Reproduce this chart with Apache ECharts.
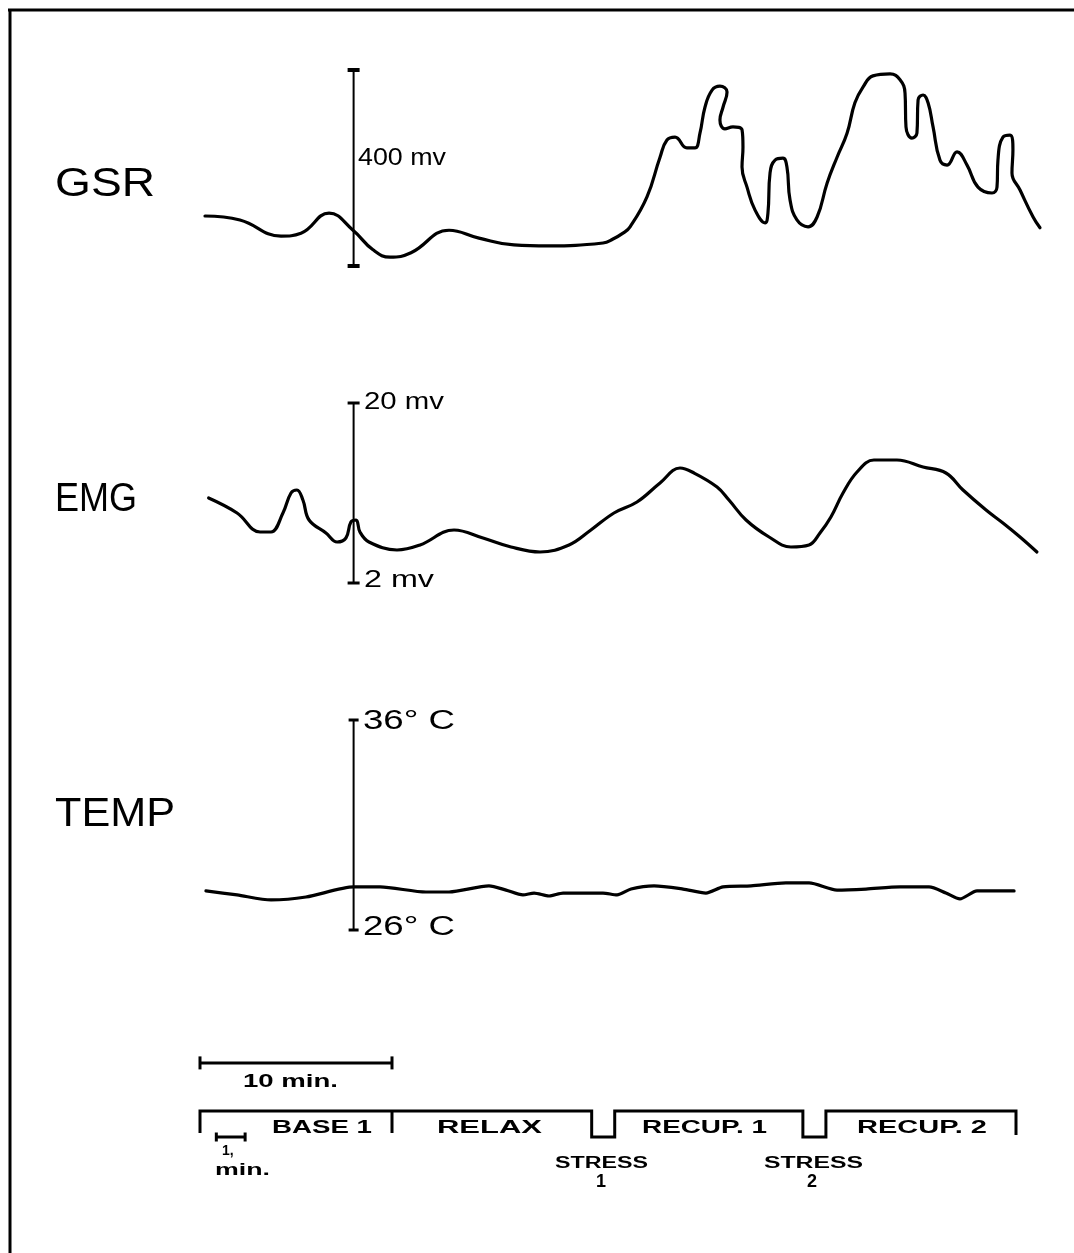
<!DOCTYPE html>
<html><head><meta charset="utf-8">
<script src="https://cdn.jsdelivr.net/npm/echarts@6/dist/echarts.min.js"></script>
<style>html,body{margin:0;padding:0;background:#fff}#c{width:1074px;height:1253px}</style>
</head><body><div id="c"></div>
<script>
// ---- DATA (time in minutes) ----
const gsrTime = [
  0.26,2.08,4.22,5.26,6.72,7.97,9.01,9.90,10.99,12.97,
  14.53,16.35,18.13,20.99,21.51,22.03,22.40,23.28,23.96,24.32,
  24.74,25.36,25.78,26.04,26.30,26.67,27.08,27.45,27.24,27.08,
  27.34,27.76,28.23,28.28,28.23,28.49,28.91,29.43,29.58,29.69,
  29.95,30.36,30.57,30.73,31.09,31.67,32.14,32.66,33.18,33.70,
  34.11,34.53,35.05,35.94,36.46,36.72,36.77,37.08,37.34,37.40,
  37.66,37.92,38.18,38.54,38.91,39.43,39.95,40.52,41.25,41.51,
  41.56,41.82,42.19,42.34,42.29,42.71,43.39,43.75];
const gsrValue = [
  102,94,61,67,108,73,33,18,27,73,
  57,43,41,47,55,67,80,141,222,257,
  263,241,241,271,324,359,367,355,324,298,
  280,284,278,243,202,161,114,88,108,190,
  216,220,202,135,94,80,100,169,222,271,
  333,365,388,392,380,353,284,261,271,339,
  349,333,284,216,206,233,206,161,149,161,
  216,263,267,237,190,155,100,78];

const emgTime = [
  0.45,1.93,3.13,3.70,4.32,4.74,5.05,5.36,5.68,6.56,
  7.14,7.60,7.86,8.13,8.33,8.80,10.26,11.46,13.23,14.74,
  16.20,17.71,19.22,20.36,21.56,22.76,23.96,25.00,25.73,26.93,
  27.55,28.44,29.64,30.78,31.72,32.29,32.86,33.49,34.22,35.10,
  36.30,37.66,38.85,39.74,40.94,41.82,42.71,43.59];
const emgValue = [
  10.5,9.0,7.1,7.1,9.0,11.0,11.3,10.3,8.3,7.0,
  6.1,6.5,8.1,8.3,7.1,6.1,5.3,5.8,7.3,6.5,
  5.6,5.1,5.8,7.3,9.0,10.1,12.0,13.5,13.0,11.6,
  10.3,8.3,6.6,5.6,5.8,7.0,8.6,11.0,13.1,14.3,
  14.3,13.6,13.0,11.3,9.3,8.0,6.6,5.1];

const tempTime = [
  0.31,1.93,3.70,5.52,8.02,9.38,11.77,12.97,15.05,15.94,
  16.82,17.40,18.18,18.91,20.99,21.72,22.45,23.65,25.16,26.35,
  27.24,28.70,30.52,31.72,33.18,34.69,36.46,37.97,38.85,39.58,
  40.47,42.40];
const tempValue = [
  27.86,27.67,27.43,27.57,28.05,28.05,27.81,27.81,28.10,27.90,
  27.67,27.76,27.62,27.76,27.76,27.67,27.95,28.10,27.95,27.76,
  28.05,28.10,28.24,28.24,27.90,27.95,28.05,28.05,27.76,27.48,
  27.86,27.86];

// scale bars
const scaleBarTime = 8.0;
const gsrScale = [0, 400];
const emgScale = [2, 20];
const tempScale = [26, 36];
const gsrScaleLabels = ['400 mv'];
const emgScaleLabels = ['20 mv', '2 mv'];
const tempScaleLabels = ['36° C', '26° C'];
const traceNames = ['GSR', 'EMG', 'TEMP'];

// session phases
const phaseNames = ['BASE 1', 'RELAX', 'STRESS 1', 'RECUP. 1', 'STRESS 2', 'RECUP. 2'];
const phaseBounds = [0, 10, 20.4, 21.6, 31.4, 32.6, 42.5];
const phaseLevel = [1, 1, 0, 1, 0, 1];
const tenMinBar = [0, 10];
const oneMinBar = [0.85, 2.35];
const timeLabels = ['10 min.', '1,', 'min.'];

// ---- CHART ----
const chart = echarts.init(document.getElementById('c'), null, {renderer: 'canvas'});
const INK = '#000';
const zip = (t, v) => t.map((x, i) => [x, v[i]]);

const gridDefs = [
  {top: 70, height: 196},
  {top: 403, height: 180},
  {top: 720, height: 210},
  {top: 1111, height: 26}
];
const yRanges = [gsrScale, emgScale, tempScale, [0, 1]];
const grids = gridDefs.map(g => ({left: 200, width: 844.8, top: g.top, height: g.height, outerBoundsMode: 'none', containLabel: false}));
const xAxes = gridDefs.map((g, i) => ({type: 'value', gridIndex: i, min: 0, max: 44, show: false}));
const yAxes = gridDefs.map((g, i) => ({type: 'value', gridIndex: i, min: yRanges[i][0], max: yRanges[i][1], show: false}));

function curve(i, data, smooth, w) {
  return {type: 'line', xAxisIndex: i, yAxisIndex: i, data, symbol: 'none', smooth,
    clip: false, silent: true, lineStyle: {color: INK, width: w || 3.2, cap: 'round', join: 'round'}};
}
function bar(i, data, capSize, width) {
  return {type: 'line', xAxisIndex: i, yAxisIndex: i, data, symbol: 'rect', symbolSize: capSize,
    showSymbol: true, clip: false, silent: true, itemStyle: {color: INK},
    lineStyle: {color: INK, width: width || 2}};
}

// step outline for phases
const step = [[phaseBounds[0], 0.15]];
phaseLevel.forEach((lv, i) => { step.push([phaseBounds[i], lv]); step.push([phaseBounds[i + 1], lv]); });
step.push([phaseBounds[phaseBounds.length - 1], 0.08]);

const series = [
  curve(0, zip(gsrTime, gsrValue), 0.45),
  curve(1, zip(emgTime, emgValue), 0.4),
  curve(2, zip(tempTime, tempValue), 0.25),
  bar(0, gsrScale.map(v => [scaleBarTime, v]), [12, 4]),
  bar(1, emgScale.map(v => [scaleBarTime, v]), [12, 3]),
  bar(2, tempScale.map(v => [scaleBarTime, v]), [10, 3]),
  {type: 'line', xAxisIndex: 3, yAxisIndex: 3, data: step, symbol: 'none', clip: false, silent: true,
    lineStyle: {color: INK, width: 3, join: 'miter'}},
  {type: 'line', xAxisIndex: 3, yAxisIndex: 3, data: [[phaseBounds[1], 1], [phaseBounds[1], 0.15]], symbol: 'none', clip: false, silent: true,
    lineStyle: {color: INK, width: 3}},
  bar(3, tenMinBar.map(t => [t, 2.85]), [3, 13], 3),
  bar(3, oneMinBar.map(t => [t, 0]), [3, 9], 3)
];

// ---- TEXT ----
const mctx = document.createElement('canvas').getContext('2d');
function txt(str, left, cy, size, width, weight) {
  const font = (weight || 'normal') + ' ' + size + 'px "Liberation Sans"';
  mctx.font = font;
  const w = mctx.measureText(str).width;
  return {type: 'text', x: left, y: cy, scaleX: width ? width / w : 1, silent: true,
    style: {text: str, x: 0, y: 0, font, fill: INK, textAlign: 'left', textVerticalAlign: 'middle', align: 'left', verticalAlign: 'middle'}};
}
const graphics = [
  {type: 'line', shape: {x1: 8, y1: 10, x2: 1074, y2: 10}, style: {stroke: INK, lineWidth: 3}, silent: true},
  {type: 'line', shape: {x1: 10, y1: 9, x2: 10, y2: 1253}, style: {stroke: INK, lineWidth: 3}, silent: true},
  txt(traceNames[0], 55, 185, 40, 100),
  txt(traceNames[1], 55, 500, 40, 82),
  txt(traceNames[2], 55, 815, 40, 120),
  txt(gsrScaleLabels[0], 358, 158, 24, 88),
  txt(emgScaleLabels[0], 364, 403, 23, 80),
  txt(emgScaleLabels[1], 364, 581, 23, 70),
  txt(tempScaleLabels[0], 363, 722, 27, 92),
  txt(tempScaleLabels[1], 363, 928, 27, 92),
  txt(timeLabels[0], 243, 1082, 19, 95, 'bold'),
  txt(phaseNames[0], 272, 1128, 18, 100, 'bold'),
  txt(phaseNames[1], 437, 1128, 18, 105, 'bold'),
  txt(phaseNames[3], 642, 1128, 18, 125, 'bold'),
  txt(phaseNames[5], 857, 1128, 18, 130, 'bold'),
  txt(phaseNames[2].split(' ')[0], 555, 1164, 16, 93, 'bold'),
  txt(phaseNames[2].split(' ')[1], 596, 1182, 18, 0, 'bold'),
  txt(phaseNames[4].split(' ')[0], 764, 1164, 16, 99, 'bold'),
  txt(phaseNames[4].split(' ')[1], 807, 1182, 18, 0, 'bold'),
  txt(timeLabels[1], 222, 1151, 14, 0, 'bold'),
  txt(timeLabels[2], 215, 1170, 17, 55, 'bold')
];

chart.setOption({
  animation: false,
  backgroundColor: '#fff',
  grid: grids, xAxis: xAxes, yAxis: yAxes,
  series,
  graphic: {elements: graphics}
});
</script></body></html>
